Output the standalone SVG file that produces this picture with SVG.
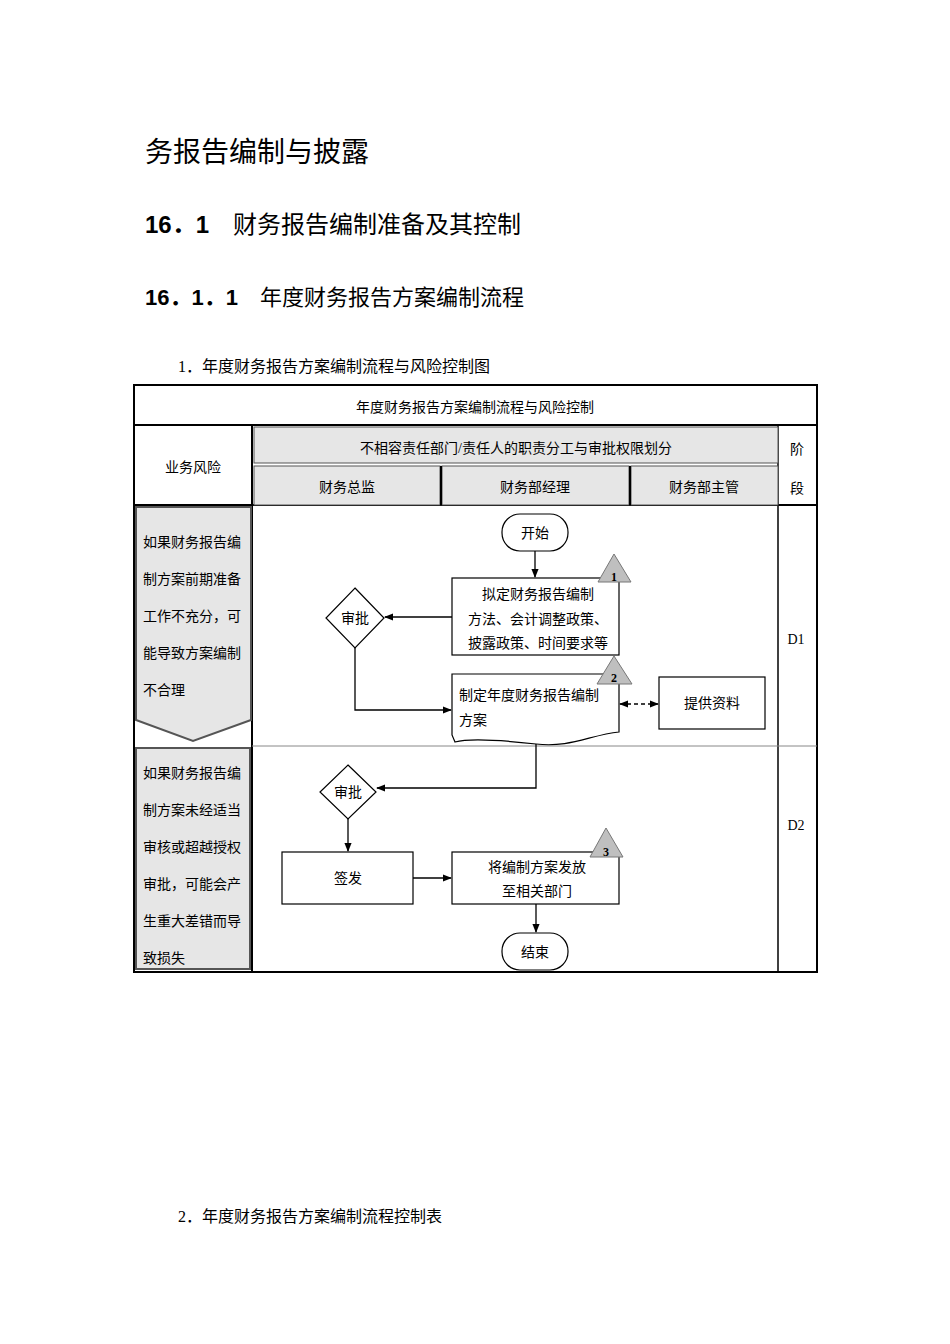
<svg xmlns="http://www.w3.org/2000/svg" width="950" height="1344" viewBox="0 0 950 1344">
<style>
text{font-family:"Liberation Serif","Noto Sans CJK SC",serif;fill:#000}
.h{font-family:"Liberation Sans","Noto Sans CJK SC",sans-serif}
.t{font-size:14px}
.c{text-anchor:middle}
.ln{stroke:#000;stroke-width:1.3;fill:none}
.bx{stroke:#000;stroke-width:1.2;fill:#fff}
.g{fill:#e6e6e6;stroke:#555;stroke-width:1}
.tri{fill:#bfbfbf;stroke:#777;stroke-width:1}
.n{font-size:12px;font-weight:bold}
</style>
<defs>
<marker id="a" viewBox="0 0 10 10" refX="9" refY="5" markerWidth="7" markerHeight="7" orient="auto-start-reverse"><path d="M0,1 L10,5 L0,9 Z" fill="#000"/></marker>
</defs>
<rect width="950" height="1344" fill="#fff"/>
<text class="h" x="145" y="162" font-size="28">务报告编制与披露</text>
<text class="h" x="145" y="233" font-size="24"><tspan font-weight="bold">16．1</tspan>　财务报告编制准备及其控制</text>
<text x="145" y="305" font-size="22"><tspan font-weight="bold" class="h">16．1．1</tspan>　年度财务报告方案编制流程</text>
<text x="178" y="372" font-size="16">1．年度财务报告方案编制流程与风险控制图</text>
<text x="178" y="1222" font-size="16">2．年度财务报告方案编制流程控制表</text>

<g id="table">
<rect x="134" y="385" width="683" height="587" fill="#fff" stroke="#000" stroke-width="2"/>
<line x1="134" y1="425" x2="817" y2="425" stroke="#000" stroke-width="2"/>
<line x1="134" y1="505" x2="817" y2="505" stroke="#000" stroke-width="2"/>
<line x1="252" y1="425" x2="252" y2="972" stroke="#000" stroke-width="2"/>
<line x1="778" y1="425" x2="778" y2="972" stroke="#000" stroke-width="1.5"/>
<line x1="252" y1="746" x2="817" y2="746" stroke="#888" stroke-width="1"/>
<rect class="g" x="254" y="427" width="524" height="36"/>
<rect class="g" x="254" y="466" width="186" height="39"/>
<rect class="g" x="442" y="466" width="187" height="39"/>
<rect class="g" x="631" y="466" width="147" height="39"/>
<line x1="441" y1="466" x2="441" y2="505" stroke="#000" stroke-width="2"/>
<line x1="630" y1="466" x2="630" y2="505" stroke="#000" stroke-width="2"/>
<text class="t c" x="475" y="412">年度财务报告方案编制流程与风险控制</text>
<text class="t c" x="193" y="472">业务风险</text>
<text class="t c" x="516" y="453">不相容责任部门/责任人的职责分工与审批权限划分</text>
<text class="t c" x="347" y="492">财务总监</text>
<text class="t c" x="535" y="492">财务部经理</text>
<text class="t c" x="704" y="492">财务部主管</text>
<text class="t c" x="797" y="454">阶</text>
<text class="t c" x="797" y="493">段</text>
<text class="t c" x="796" y="644">D1</text>
<text class="t c" x="796" y="830">D2</text>
</g>

<g id="risk1">
<path d="M136,507 H251 V720 L193,741 L136,720 Z" fill="#e6e6e6" stroke="#555" stroke-width="2"/>
<text class="t" x="143" y="547">如果财务报告编</text>
<text class="t" x="143" y="584">制方案前期准备</text>
<text class="t" x="143" y="621">工作不充分，可</text>
<text class="t" x="143" y="658">能导致方案编制</text>
<text class="t" x="143" y="695">不合理</text>
</g>
<g id="risk2">
<rect x="136" y="748" width="114" height="221" fill="#e6e6e6" stroke="#555" stroke-width="2"/>
<text class="t" x="143" y="778">如果财务报告编</text>
<text class="t" x="143" y="815">制方案未经适当</text>
<text class="t" x="143" y="852">审核或超越授权</text>
<text class="t" x="143" y="889">审批，可能会产</text>
<text class="t" x="143" y="926">生重大差错而导</text>
<text class="t" x="143" y="963">致损失</text>
</g>

<g id="connectors">
<line class="ln" x1="535" y1="551" x2="535" y2="577" marker-end="url(#a)"/>
<line class="ln" x1="452" y1="617" x2="385" y2="617" marker-end="url(#a)"/>
<polyline class="ln" points="355,648 355,710 451,710" marker-end="url(#a)"/>
<line class="ln" x1="620" y1="704" x2="658" y2="704" stroke-dasharray="4,3" marker-start="url(#a)" marker-end="url(#a)"/>
<polyline class="ln" points="536,740 536,788 377,788" marker-end="url(#a)"/>
<line class="ln" x1="348" y1="819" x2="348" y2="851" marker-end="url(#a)"/>
<line class="ln" x1="413" y1="878" x2="451" y2="878" marker-end="url(#a)"/>
<line class="ln" x1="536" y1="904" x2="536" y2="932" marker-end="url(#a)"/>
</g>

<g id="start"><rect class="bx" x="502" y="514" width="66" height="37" rx="18"/><text class="t c" x="535" y="538">开始</text></g>
<g id="n1">
<rect class="bx" x="452" y="578" width="167" height="77"/>
<text class="t c" x="538" y="599">拟定财务报告编制</text>
<text class="t c" x="538" y="624">方法、会计调整政策、</text>
<text class="t c" x="538" y="648">披露政策、时间要求等</text>
<path class="tri" d="M614,554 L631,582 L598,582 Z"/><text class="n c" x="614" y="581">1</text>
</g>
<g id="d1"><path class="bx" d="M355,588 L384,618 L355,648 L326,618 Z"/><text class="t c" x="355" y="623">审批</text></g>
<g id="n2">
<path class="bx" d="M452,674 H619 V732 C590,735 570,748 536,744 C500,740 470,738 455,742 L452,735 Z"/>
<text class="t" x="459" y="700">制定年度财务报告编制</text>
<text class="t" x="459" y="725">方案</text>
<path class="tri" d="M614,656 L632,684 L597,684 Z"/><text class="n c" x="614" y="682">2</text>
</g>
<g id="n3"><rect class="bx" x="659" y="677" width="106" height="52"/><text class="t c" x="712" y="708">提供资料</text></g>
<g id="d2"><path class="bx" d="M348,765 L376,792 L348,819 L320,792 Z"/><text class="t c" x="348" y="797">审批</text></g>
<g id="n4"><rect class="bx" x="282" y="852" width="131" height="52"/><text class="t c" x="348" y="883">签发</text></g>
<g id="n5">
<rect class="bx" x="452" y="852" width="167" height="52"/>
<text class="t c" x="537" y="872">将编制方案发放</text>
<text class="t c" x="537" y="896">至相关部门</text>
<path class="tri" d="M606,828 L623,857 L590,857 Z"/><text class="n c" x="606" y="856">3</text>
</g>
<g id="end"><rect class="bx" x="502" y="933" width="66" height="37" rx="18"/><text class="t c" x="535" y="957">结束</text></g>
</svg>
